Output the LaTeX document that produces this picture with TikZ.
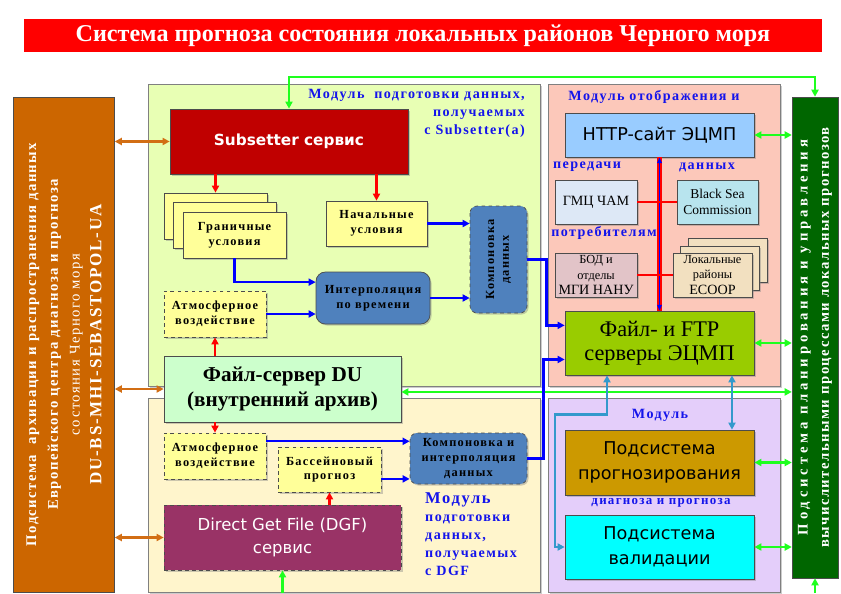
\documentclass[tikz,border=0pt]{standalone}
\usepackage{fontspec}
\setmainfont{Liberation Serif}
\newfontfamily\verdfont{DejaVu Sans}
\newfontfamily\spaced[LetterSpace=10]{Liberation Serif}
\newfontfamily\sparse[LetterSpace=26]{Liberation Serif}
\usetikzlibrary{arrows.meta, shadows}

\definecolor{titlered}{RGB}{255,0,0}
\definecolor{archfill}{RGB}{204,102,0}
\definecolor{planfill}{RGB}{0,102,0}
\definecolor{subfill}{RGB}{232,255,180}
\definecolor{dgfmodfill}{RGB}{255,245,204}
\definecolor{showfill}{RGB}{252,200,186}
\definecolor{diagfill}{RGB}{228,206,250}
\definecolor{subsetred}{RGB}{192,0,0}
\definecolor{condyellow}{RGB}{255,255,153}
\definecolor{interpblue}{RGB}{79,129,189}
\definecolor{dufill}{RGB}{204,255,204}
\definecolor{dgfred}{RGB}{153,51,102}
\definecolor{httpblue}{RGB}{153,204,255}
\definecolor{gmcfill}{RGB}{221,232,246}
\definecolor{bscfill}{RGB}{184,228,238}
\definecolor{bodfill}{RGB}{226,196,200}
\definecolor{locfill}{RGB}{242,224,192}
\definecolor{ftpfill}{RGB}{153,204,0}
\definecolor{progfill}{RGB}{204,153,0}
\definecolor{validfill}{RGB}{0,255,255}
\definecolor{lgreen}{RGB}{30,255,30}
\definecolor{lblue}{RGB}{20,20,235}
\definecolor{arrblue}{RGB}{0,0,255}
\definecolor{skyblue}{RGB}{51,153,204}
\definecolor{arrorange}{RGB}{210,110,20}

\begin{document}
\begin{tikzpicture}[x=0.85pt, y=-0.85pt,
    >={Triangle[length=6pt,width=6pt]},
    wh/.style 2 args={minimum width=#1*0.85pt, minimum height=#2*0.85pt},
    shade/.style={drop shadow={shadow xshift=1.3pt, shadow yshift=-1.3pt, opacity=0.4}},
    module/.style={draw=black!50, line width=0.8pt, shade},
    box/.style={draw=black!70, line width=0.6pt, align=center, inner sep=0pt, shade},
    dbox/.style={box, dashed},
    smalltxt/.style={font=\spaced\bfseries\fontsize{10.5}{12.5}\selectfont},
    lbl/.style={text=lblue, font=\spaced\bfseries\fontsize{12}{15.3}\selectfont, inner sep=0pt},
    garr/.style={line width=2.2pt, draw=lgreen},
    oarr/.style={line width=2pt, draw=arrorange},
    rarr/.style={line width=2pt, draw=red},
    barr/.style={line width=2pt, draw=arrblue},
    skyarr/.style={line width=2pt, draw=skyblue},
    redline/.style={line width=2.5pt, draw=red}]
    \useasboundingbox (0,0) rectangle (841,593);

    % Title
    \node[fill=titlered, wh={798}{33}, text=white, font=\bfseries\fontsize{20.5}{23}\selectfont] (title) at (423,35.5) {Система прогноза состояния локальных районов Черного моря};

    % Side bars
    \node[draw=black!70, fill=archfill, rotate=90, wh={495}{101}, text=white, align=center, inner sep=0pt, font=\spaced\bfseries\fontsize{12.5}{18.5}\selectfont] (archive) at (64,344.5) {Подсистема~~архивации и распространения данных\\Европейского центра диагноза и прогноза\\{\mdseries состояния Черного моря}\\{\fontsize{14.5}{18.5}\selectfont DU-BS-MHI-SEBASTOPOL-UA}};
    \node[draw=black!70, fill=planfill, rotate=90, wh={481}{46}, text=white, align=center, inner sep=0pt, font=\bfseries\fontsize{12.5}{18}\selectfont] (planbar) at (815,337.5) {{\sparse Подсистема планирования и управления}\\{\spaced вычислительными процессами локальных прогнозов}};

    % Modules
    \node[module, fill=subfill, wh={392}{302}] (subsetmod) at (344,235) {};
    \node[module, fill=dgfmodfill, wh={392}{194}] (dgfmod) at (344,495) {};
    \node[module, fill=showfill, wh={232}{302}] (showmod) at (664,235) {};
    \node[module, fill=diagfill, wh={232}{194}] (diagmod) at (664,495) {};

    % Subsetter module
    \node[box, fill=subsetred, wh={238}{65}, text=white, font=\verdfont\bfseries\fontsize{13}{16}\selectfont] (subsetter) at (289,141.5) {Subsetter сервис};
    \node[box, fill=condyellow, wh={103}{46}] (gran3) at (215.5,216) {};
    \node[box, fill=condyellow, wh={103}{46}] (gran2) at (225,225.5) {};
    \node[box, fill=condyellow, wh={103}{46}, smalltxt] (gran1) at (234.5,235) {Граничные\\условия};
    \node[box, fill=condyellow, wh={101}{45}, smalltxt] (nach) at (376.5,223.5) {Начальные\\условия};
    \node[dbox, rounded corners=6pt, fill=interpblue, rotate=90, wh={107}{57}, smalltxt] (komp) at (498.5,259.5) {Компоновка\\данных};
    \node[box, rounded corners=8pt, fill=interpblue, wh={114}{52}, smalltxt] (interp) at (373,298) {Интерполяция\\по времени};
    \node[dbox, fill=condyellow, wh={102}{46}, smalltxt] (atmup) at (215,314) {Атмосферное\\воздействие};
    \node[box, fill=dufill, wh={237}{66}, font=\bfseries\fontsize{18}{21}\selectfont] (duserver) at (282.5,389) {Файл-сервер DU\\(внутренний архив)};

    % DGF module
    \node[dbox, fill=condyellow, wh={102}{46}, smalltxt] (atmdown) at (215,456) {Атмосферное\\воздействие};
    \node[dbox, fill=condyellow, wh={103}{45}, smalltxt] (basin) at (329.5,469.5) {Бассейновый\\прогноз};
    \node[dbox, rounded corners=6pt, fill=interpblue, wh={117}{51}, smalltxt] (kompint) at (468.5,458.5) {Компоновка и\\интерполяция\\данных};
    \node[dbox, fill=dgfred, wh={237}{65}, text=white, font=\verdfont\fontsize{14}{20}\selectfont] (dgf) at (282.5,537.5) {Direct Get File (DGF)\\сервис};

    % Display module
    \node[box, fill=httpblue, wh={189}{44}, font=\verdfont\fontsize{15}{18}\selectfont] (http) at (659.5,135) {HTTP-сайт ЭЦМП};
    \node[box, fill=gmcfill, wh={82}{44}, font=\fontsize{12}{13}\selectfont] (gmc) at (596,202) {ГМЦ ЧАМ};
    \node[box, fill=bscfill, wh={81}{44}, font=\fontsize{11.5}{13.5}\selectfont] (bsc) at (717.5,202) {Black Sea\\Commission};
    \node[box, fill=bodfill, wh={82}{44}, font=\fontsize{10.5}{13.5}\selectfont] (bod) at (596,275) {БОД и\\отделы\\{\fontsize{12}{13.5}\selectfont МГИ НАНУ}};
    \node[box, fill=locfill, wh={79}{44}] (loc3) at (727.5,260.5) {};
    \node[box, fill=locfill, wh={79}{44}] (loc2) at (720,268) {};
    \node[box, fill=locfill, wh={79}{44}, font=\fontsize{10.5}{13.5}\selectfont] (loc1) at (712.5,275) {Локальные\\районы\\{\fontsize{12}{13.5}\selectfont ECOOP}};
    \node[box, fill=ftpfill, wh={189}{64}, font=\fontsize{19}{20.5}\selectfont] (ftp) at (659.5,343) {Файл- и FTP\\серверы ЭЦМП};

    % Diagnosis module
    \node[box, fill=progfill, wh={189}{65}, font=\verdfont\fontsize{15}{21}\selectfont] (prog) at (659.5,462.5) {Подсистема\\прогнозирования};
    \node[box, fill=validfill, wh={189}{64}, font=\verdfont\fontsize{15}{21}\selectfont] (valid) at (659.5,547) {Подсистема\\валидации};

    % Module labels
    \node[lbl, align=right, anchor=north east] (lblsub) at (525,89) {Модуль~~подготовки данных,\\получаемых\\с Subsetter(a)};
    \node[lbl, align=left, anchor=north west] (lbldgf) at (425,492) {{\fontsize{14}{15.3}\selectfont Модуль}\\подготовки\\данных,\\получаемых\\с DGF};
    \node[lbl] (lblshow) at (654,97) {Модуль отображения и};
    \node[lbl] (lblpass) at (587,167) {передачи};
    \node[lbl] (lbldata) at (707,167) {данных};
    \node[lbl] (lblcons) at (604,233) {потребителям};
    \node[lbl] (lblmod) at (660,415) {Модуль};
    \node[lbl, font=\spaced\bfseries\fontsize{11}{13}\selectfont] (lbldiag) at (661,503) {диагноза и прогноза};

    % Green links
    \coordinate (bustop) at (0,77);
    \coordinate (dgfin) at (282.5,593);
    \coordinate (planin) at (815,593);
    \draw[garr, <->] (subsetter.north) |- (bustop -| planbar.east) -- (planbar.east);
    \draw[garr, ->] (dgfin) -- (dgf.south);
    \draw[garr, ->] (planin) -- (planbar.west);
    \draw[garr, <->] (http.east) -- (http.east -| planbar.north);
    \draw[garr, <->] (ftp.east) -- (ftp.east -| planbar.north);
    \draw[garr, <->] ([yshift=-2.5pt]duserver.east) -- ([yshift=-2.5pt]duserver.east -| planbar.north);
    \draw[garr, <->] (prog.east) -- (prog.east -| planbar.north);
    \draw[garr, <->] (valid.east) -- (valid.east -| planbar.north);

    % Archive links
    \draw[oarr, <->] (archive.south |- subsetter.west) -- (subsetter.west);
    \draw[oarr, <->] (archive.south |- duserver.west) -- (duserver.west);
    \draw[oarr, <->] (archive.south |- dgf.west) -- (dgf.west);

    % Red arrows
    \draw[rarr, ->] (subsetter.south -| gran3.north) -- (gran3.north);
    \draw[rarr, ->] (subsetter.south -| nach.north) -- (nach.north);
    \draw[rarr, ->] (duserver.north -| atmup.south) -- (atmup.south);
    \draw[rarr, ->] (duserver.south -| atmdown.north) -- (atmdown.north);
    \draw[rarr, ->] (dgf.north -| basin.south) -- (basin.south);

    % Blue arrows
    \draw[barr, ->] (nach.east) -- (nach.east -| komp.north);
    \draw[barr, ->] (gran1.south) |- ([yshift=13.5pt]interp.west);
    \draw[barr, ->] (atmup.east) -- (atmup.east -| interp.west);
    \draw[barr, ->] (interp.east) -- (interp.east -| komp.north);
    \draw[barr, ->] (komp.south) -- ++(19,0) |- ([yshift=15pt]ftp.west);
    \draw[barr, ->] (kompint.east) -- ++(16,0) |- ([yshift=-14pt]ftp.west);
    \draw[barr, ->] ([yshift=12.5pt]atmdown.east) -- ([yshift=12.5pt]atmdown.east -| kompint.west);
    \draw[barr, ->] ([yshift=-8pt]basin.east) -- ([yshift=-8pt]basin.east -| kompint.west);

    % Consumer bus
    \draw[line width=4pt, red] (http.south) -- (ftp.north);
    \draw[line width=1.2pt, arrblue, <->, >={Triangle[length=5pt,width=4pt]}] (http.south) -- (ftp.north);
    \draw[redline] (gmc.east) -- (bsc.west);
    \draw[redline] (bod.east) -- (loc1.west);

    % FTP to diagnosis
    \draw[skyarr, <->] ([xshift=61.6pt]ftp.south) -- ([xshift=61.6pt]ftp.south |- prog.north);
    \draw[skyarr, <->] ([xshift=-44.6pt]ftp.south) |- ++(-52,39) |- (valid.west);
\end{tikzpicture}
\end{document}
